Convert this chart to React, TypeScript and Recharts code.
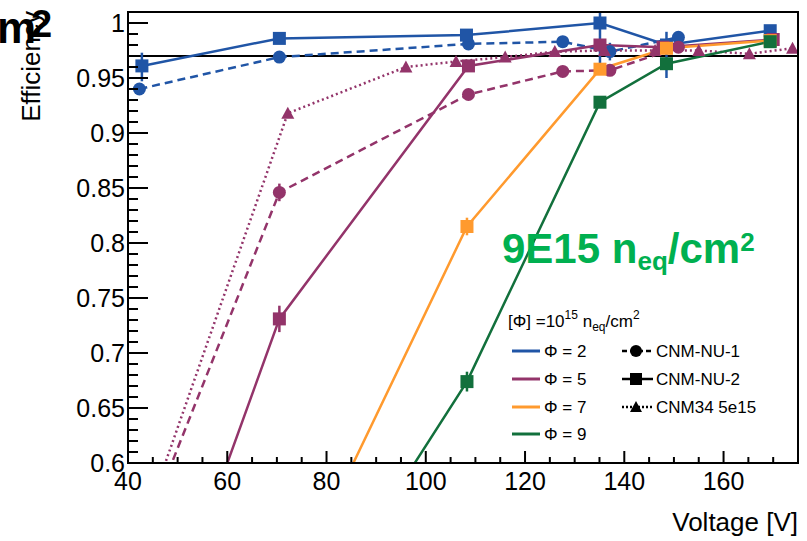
import React from 'react';
import { LineChart, Line, XAxis, YAxis, ErrorBar, ReferenceLine } from 'recharts';

// ---------- data ----------
// Φ = 2, CNM-NU-1 (dashed, circles)
const p2nu1V = [42.3, 70.5, 108.6, 127.6, 137.1, 150.9];
const p2nu1E = [0.940, 0.969, 0.981, 0.983, 0.974, 0.987];
const p2nu1Lo = [0.004, 0.004, 0.002, 0.002, 0.008, 0.003];
const p2nu1Hi = [0.004, 0.004, 0.002, 0.002, 0.008, 0.003];
// Φ = 2, CNM-NU-2 (solid, squares)
const p2nu2V = [42.8, 70.5, 108.2, 135.1, 148.5, 169.4];
const p2nu2E = [0.961, 0.986, 0.989, 1.0, 0.980, 0.993];
const p2nu2Lo = [0.014, 0.005, 0.003, 0.045, 0.030, 0.003];
const p2nu2Hi = [0.012, 0.005, 0.003, 0.010, 0.012, 0.003];
// Φ = 5, CNM-NU-1 (dashed, circles)
const p5nu1V = [42.3, 70.5, 108.6, 127.6, 137.1, 150.9];
const p5nu1E = [0.526, 0.846, 0.935, 0.956, 0.957, 0.978];
const p5nu1Lo = [0.0, 0.008, 0.003, 0.003, 0.003, 0.003];
const p5nu1Hi = [0.0, 0.008, 0.003, 0.003, 0.003, 0.003];
// Φ = 5, CNM-NU-2 (solid, squares)
const p5nu2V = [42.8, 70.5, 108.6, 135.1, 147.8, 170.0];
const p5nu2E = [0.385, 0.731, 0.961, 0.980, 0.978, 0.985];
const p5nu2Lo = [0.0, 0.012, 0.004, 0.004, 0.004, 0.003];
const p5nu2Hi = [0.0, 0.012, 0.004, 0.004, 0.004, 0.003];
// CNM34 5e15 (dotted, triangles)
const cnm34V = [42.0, 72.2, 96.0, 106.1, 116.0, 126.0, 136.0, 146.2, 155.0, 165.2, 173.9];
const cnm34E = [0.529, 0.918, 0.960, 0.965, 0.969, 0.974, 0.975, 0.975, 0.975, 0.972, 0.977];
// Φ = 7, CNM-NU-2 (solid, squares)
const p7nu2V = [70.5, 108.3, 135.1, 148.5, 169.4];
const p7nu2E = [0.460, 0.815, 0.958, 0.977, 0.984];
const p7nu2Lo = [0.0, 0.008, 0.004, 0.004, 0.003];
const p7nu2Hi = [0.0, 0.008, 0.004, 0.004, 0.003];
// Φ = 9, CNM-NU-2 (solid, squares)
const p9nu2V = [70.5, 108.3, 135.1, 148.5, 169.4];
const p9nu2E = [0.408, 0.674, 0.928, 0.963, 0.983];
const p9nu2Lo = [0.0, 0.009, 0.004, 0.004, 0.003];
const p9nu2Hi = [0.0, 0.009, 0.004, 0.004, 0.003];

const xMajorTicks = [40, 60, 80, 100, 120, 140, 160];
const yMajorTicks = [0.6, 0.65, 0.7, 0.75, 0.8, 0.85, 0.9, 0.95, 1];
const refLevel = 0.97;

// ---------- style ----------
const BLUE = '#2055a6';
const PURPLE = '#93346a';
const ORANGE = '#ff9a2e';
const GREEN = '#12703c';
const FONT = '"Liberation Sans", Arial, Helvetica, sans-serif';

const W = 807;
const H = 541;
const PL = 128, PR = 798, PT = 12, PB = 463;

const build = (v: number[], e: number[], lo?: number[], hi?: number[]) =>
  v.map((x, i) => ({ v: x, eff: e[i], err: [lo ? lo[i] : 0, hi ? hi[i] : 0] }));

const xMinor: number[] = [];
for (let t = 40; t <= 170; t += 5) xMinor.push(t);
const yMinor: number[] = [];
for (let k = 60; k <= 101; k += 1) yMinor.push(k / 100);

const isXMajor = (v: number) => xMajorTicks.indexOf(v) >= 0;
const isYMajor = (v: number) => yMajorTicks.some((m) => Math.abs(m - v) < 1e-6);

const square = (color: string) => (p: any) => {
  if (p.cx == null || p.cy == null) return <g key={p.index} />;
  return <rect key={p.index} x={p.cx - 6.5} y={p.cy - 6.5} width={13} height={13} fill={color} />;
};
const circle = (color: string) => (p: any) => {
  if (p.cx == null || p.cy == null) return <g key={p.index} />;
  return <circle key={p.index} cx={p.cx} cy={p.cy} r={6.5} fill={color} />;
};
const triangle = (color: string) => (p: any) => {
  if (p.cx == null || p.cy == null) return <g key={p.index} />;
  const { cx, cy } = p;
  return <path key={p.index} d={`M${cx - 6.5},${cy + 5.5} L${cx + 6.5},${cy + 5.5} L${cx},${cy - 6.5} Z`} fill={color} />;
};

const BottomTick = (p: any) => {
  const v = p.payload.value;
  const major = isXMajor(v);
  return (
    <g>
      <line x1={p.x} x2={p.x} y1={p.y} y2={p.y - (major ? 12 : 6)} stroke="#000" strokeWidth={2} />
      {major && (
        <text x={p.x} y={p.y + 27} textAnchor="middle" fontSize={25} fontFamily={FONT} fill="#000">
          {v}
        </text>
      )}
    </g>
  );
};
const TopTick = (p: any) => {
  const v = p.payload.value;
  const major = isXMajor(v);
  return <line x1={p.x} x2={p.x} y1={p.y} y2={p.y + (major ? 13 : 7)} stroke="#000" strokeWidth={2} />;
};
const LeftTick = (p: any) => {
  const v = p.payload.value;
  const major = isYMajor(v);
  return (
    <g>
      <line x1={p.x} x2={p.x + (major ? 20 : 10)} y1={p.y} y2={p.y} stroke="#000" strokeWidth={2} />
      {major && (
        <text x={p.x - 3} y={p.y + 9} textAnchor="end" fontSize={25} fontFamily={FONT} fill="#000">
          {Math.abs(v - 1) < 1e-6 ? '1' : String(Math.round(v * 100) / 100)}
        </text>
      )}
    </g>
  );
};
const RightTick = (p: any) => {
  const v = p.payload.value;
  const major = isYMajor(v);
  return <line x1={p.x} x2={p.x - (major ? 20 : 10)} y1={p.y} y2={p.y} stroke="#000" strokeWidth={2} />;
};

type SeriesDef = {
  name: string;
  data: any[];
  color: string;
  dash?: string;
  marker: 'sq' | 'ci' | 'tr';
  width: number;
};

const series: SeriesDef[] = [
  { name: 'p2nu1', data: build(p2nu1V, p2nu1E, p2nu1Lo, p2nu1Hi), color: BLUE, dash: '8 5', marker: 'ci', width: 2.5 },
  { name: 'p2nu2', data: build(p2nu2V, p2nu2E, p2nu2Lo, p2nu2Hi), color: BLUE, marker: 'sq', width: 2.5 },
  { name: 'cnm34', data: build(cnm34V, cnm34E), color: PURPLE, dash: '2 3', marker: 'tr', width: 2.5 },
  { name: 'p5nu2', data: build(p5nu2V, p5nu2E, p5nu2Lo, p5nu2Hi), color: PURPLE, marker: 'sq', width: 2.5 },
  { name: 'p5nu1', data: build(p5nu1V, p5nu1E, p5nu1Lo, p5nu1Hi), color: PURPLE, dash: '8 5', marker: 'ci', width: 2.5 },
  { name: 'p7nu2', data: build(p7nu2V, p7nu2E, p7nu2Lo, p7nu2Hi), color: ORANGE, marker: 'sq', width: 2.5 },
  { name: 'p9nu2', data: build(p9nu2V, p9nu2E, p9nu2Lo, p9nu2Hi), color: GREEN, marker: 'sq', width: 2.5 },
];

const markerFn = (s: SeriesDef) =>
  s.marker === 'sq' ? square(s.color) : s.marker === 'ci' ? circle(s.color) : triangle(s.color);

const Overlay = () => (
  <svg
    width={W}
    height={H}
    style={{ position: 'absolute', left: 0, top: 0, pointerEvents: 'none' }}
    fontFamily={FONT}
  >
    {/* frame */}
    <rect x={PL} y={PT} width={PR - PL} height={PB - PT} fill="none" stroke="#000" strokeWidth={2} />
    {/* axis titles */}
    <text x={798} y={531} textAnchor="end" fontSize={26} fill="#000">Voltage [V]</text>
    <text transform="translate(40,11) rotate(-90)" textAnchor="end" fontSize={26} fill="#000">Efficiency</text>
    {/* stray title fragment */}
    <text x={-3} y={43} fontSize={44} fontWeight="bold" fill="#000">m</text>
    <text x={31} y={37} fontSize={38} fontWeight="bold" fill="#000">2</text>
    {/* fluence annotation */}
    <text x={502} y={263} fontSize={42} fontWeight="bold" fill="#00b050">
      9E15 n
      <tspan fontSize={26} dy={7}>eq</tspan>
      <tspan fontSize={42} dy={-7}>/cm</tspan>
      <tspan fontSize={26} dy={-12}>2</tspan>
    </text>
    {/* legend */}
    <g fontSize={17} fill="#000">
      <text x={508} y={327}>
        [Φ] =10<tspan fontSize={12} dy={-8}>15</tspan>
        <tspan dy={8}> n</tspan>
        <tspan fontSize={12} dy={4}>eq</tspan>
        <tspan dy={-4}>/cm</tspan>
        <tspan fontSize={12} dy={-8}>2</tspan>
      </text>
      {[
        { c: BLUE, l: 'Φ = 2', y: 351 },
        { c: PURPLE, l: 'Φ = 5', y: 379 },
        { c: ORANGE, l: 'Φ = 7', y: 407 },
        { c: GREEN, l: 'Φ = 9', y: 434 },
      ].map((r) => (
        <g key={r.l}>
          <line x1={512} x2={540} y1={r.y} y2={r.y} stroke={r.c} strokeWidth={3} />
          <text x={544} y={r.y + 6}>{r.l}</text>
        </g>
      ))}
      <g>
        <line x1={622} x2={653} y1={351} y2={351} stroke="#000" strokeWidth={2.5} strokeDasharray="5 3" />
        <circle cx={636} cy={351} r={6} fill="#000" />
        <text x={656} y={357}>CNM-NU-1</text>
      </g>
      <g>
        <line x1={622} x2={653} y1={379} y2={379} stroke="#000" strokeWidth={2.5} />
        <rect x={630} y={373} width={12} height={12} fill="#000" />
        <text x={656} y={385}>CNM-NU-2</text>
      </g>
      <g>
        <line x1={622} x2={653} y1={407} y2={407} stroke="#000" strokeWidth={2.5} strokeDasharray="2 2" />
        <path d="M630,412 L642,412 L636,401 Z" fill="#000" />
        <text x={656} y={413}>CNM34 5e15</text>
      </g>
    </g>
  </svg>
);

export default function App() {
  return (
    <div style={{ position: 'absolute', left: 0, top: 0, width: W, height: H, background: '#fff' }}>
      <LineChart width={W} height={H} margin={{ top: PT, right: W - PR, left: 0, bottom: 0 }}>
        <XAxis
          xAxisId="b"
          dataKey="v"
          type="number"
          domain={[40, 175]}
          allowDataOverflow
          ticks={xMinor}
          interval={0}
          height={H - PB}
          axisLine={false}
          tickLine={false}
          tickSize={0}
          tickMargin={0}
          tick={BottomTick}
        />
        <XAxis
          xAxisId="t"
          orientation="top"
          dataKey="v"
          type="number"
          domain={[40, 175]}
          allowDataOverflow
          ticks={xMinor}
          interval={0}
          height={0}
          axisLine={false}
          tickLine={false}
          tickSize={0}
          tickMargin={0}
          tick={TopTick}
        />
        <YAxis
          yAxisId="l"
          type="number"
          domain={[0.6, 1.01]}
          allowDataOverflow
          ticks={yMinor}
          interval={0}
          width={PL}
          axisLine={false}
          tickLine={false}
          tickSize={0}
          tickMargin={0}
          tick={LeftTick}
        />
        <YAxis
          yAxisId="r"
          orientation="right"
          type="number"
          domain={[0.6, 1.01]}
          allowDataOverflow
          ticks={yMinor}
          interval={0}
          width={0}
          axisLine={false}
          tickLine={false}
          tickSize={0}
          tickMargin={0}
          tick={RightTick}
        />
        <ReferenceLine xAxisId="b" yAxisId="l" y={refLevel} stroke="#000" strokeWidth={2} />
        {series.map((s) => (
          <Line
            key={s.name}
            xAxisId="b"
            yAxisId="l"
            data={s.data}
            dataKey="eff"
            type="linear"
            stroke={s.color}
            strokeWidth={s.width}
            strokeDasharray={s.dash}
            dot={markerFn(s)}
            activeDot={false}
            isAnimationActive={false}
          >
            {s.marker !== 'tr' && (
              <ErrorBar dataKey="err" direction="y" width={0} stroke={s.color} strokeWidth={2.5} />
            )}
          </Line>
        ))}
      </LineChart>
      <Overlay />
    </div>
  );
}
